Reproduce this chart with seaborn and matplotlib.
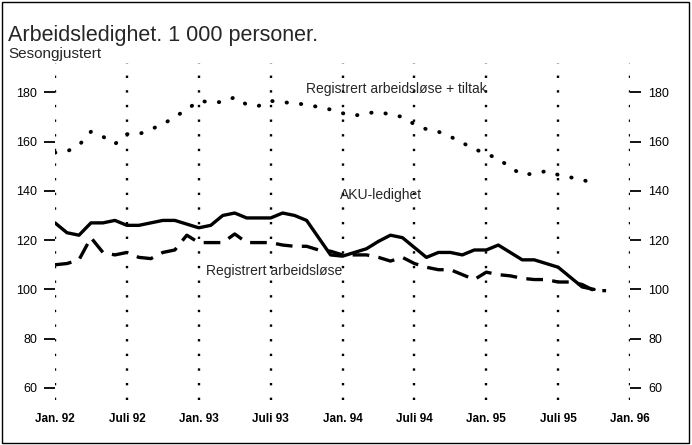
import numpy as np
import pandas as pd
import matplotlib
matplotlib.use('Agg')
import matplotlib.pyplot as plt
import seaborn as sns
from matplotlib.patches import Rectangle

# Monthly values, index 0 = Jan. 92
aku = [127, 123, 122, 127, 127, 128, 126, 126, 127, 128, 128, 126.5,
       125, 126, 130, 131, 129, 129, 129, 131, 130, 128, 121, 114,
       113.5, 115, 116.5, 119.5, 122, 121, 117, 113, 115, 115, 114, 116,
       116, 118, 115, 112, 112, 110.5, 109, 105, 101, 100]
reg = [110, 110.5, 112, 121, 115, 114, 115, 113, 112.5, 115, 116, 122,
       119, 119, 119, 122.5, 119, 119, 119, 118, 117.5, 117.5, 116, 115.5,
       114, 114, 114, 113, 111.5, 113, 110.5, 109, 108, 108, 106, 104,
       107, 106, 105.5, 104.5, 104, 104, 103, 103, 102, 99.5, 99.5]
reg_tiltak = [155.5, 156, 158.5, 164, 162, 159, 163, 163, 165, 167, 170, 173,
              176.5, 176, 176, 178, 175, 174.5, 176.5, 176, 175.5, 175, 174, 173,
              171.5, 170.5, 171.5, 172, 171, 170, 167, 165, 164, 162, 159.5, 157,
              155, 153, 149.5, 146.5, 147, 148, 146.5, 145.5, 144.5, 143]

tick_pos = [0, 6, 12, 18, 24, 30, 36, 42, 48]
tick_labels = ['Jan. 92', 'Juli 92', 'Jan. 93', 'Juli 93', 'Jan. 94',
               'Juli 94', 'Jan. 95', 'Juli 95', 'Jan. 96']
y_ticks = [60, 80, 100, 120, 140, 160, 180]

sns.set_style('ticks')
plt.rcParams['font.family'] = ['Liberation Sans', 'DejaVu Sans']

fig = plt.figure(figsize=(6.92, 4.45), dpi=100)
ax = fig.add_axes([0.0795, 0.101, 0.831, 0.757])

df_aku = pd.DataFrame({'m': np.arange(len(aku)), 'v': aku})
df_reg = pd.DataFrame({'m': np.arange(len(reg)), 'v': reg})
df_rt = pd.DataFrame({'m': np.arange(len(reg_tiltak)), 'v': reg_tiltak})

sns.lineplot(data=df_aku, x='m', y='v', ax=ax, color='black', lw=2.4)
sns.lineplot(data=df_reg, x='m', y='v', ax=ax, color='black', lw=2.4,
             linestyle=(0, (5, 2.8)))
sns.lineplot(data=df_rt, x='m', y='v', ax=ax, color='black', lw=2.8,
             linestyle=(0, (0.1, 3.6)), dash_capstyle='round')

ax.set_xlim(0, 48)
ax.set_ylim(55.1, 191.8)
for s in ax.spines.values():
    s.set_visible(False)

for p in tick_pos:
    ax.axvline(p, color='black', lw=1.7, linestyle=(0, (1, 5.2)), zorder=0)

ax.set_xticks(tick_pos)
ax.set_xticklabels(tick_labels, fontsize=8.5, fontweight='bold')
ax.tick_params(axis='x', length=0, pad=9, colors='black')
ax.set_yticks(y_ticks)
ax.tick_params(axis='y', direction='out', length=8, width=1.3, labelsize=9,
               colors='black', left=True, right=True,
               labelleft=True, labelright=True, pad=5)
ax.set_xlabel('')
ax.set_ylabel('')

ax.text(28.5, 181.5, 'Registrert arbeidsløse + tiltak', fontsize=10, ha='center', va='center')
ax.text(27.2, 138.2, 'AKU-ledighet', fontsize=10, ha='center', va='center')
ax.text(18.3, 107.4, 'Registrert arbeidsløse', fontsize=10, ha='center', va='center')

fig.text(0.012, 0.921, 'Arbeidsledighet. 1 000 personer.', fontsize=15.5, ha='left', va='center')
fig.text(0.012, 0.879, 'Sesongjustert', fontsize=11, ha='left', va='center')

fig.patches.append(Rectangle((0.003, 0.005), 0.992, 0.99, transform=fig.transFigure,
                             fill=False, edgecolor='black', lw=1))

fig.savefig('out.png', dpi=100)
